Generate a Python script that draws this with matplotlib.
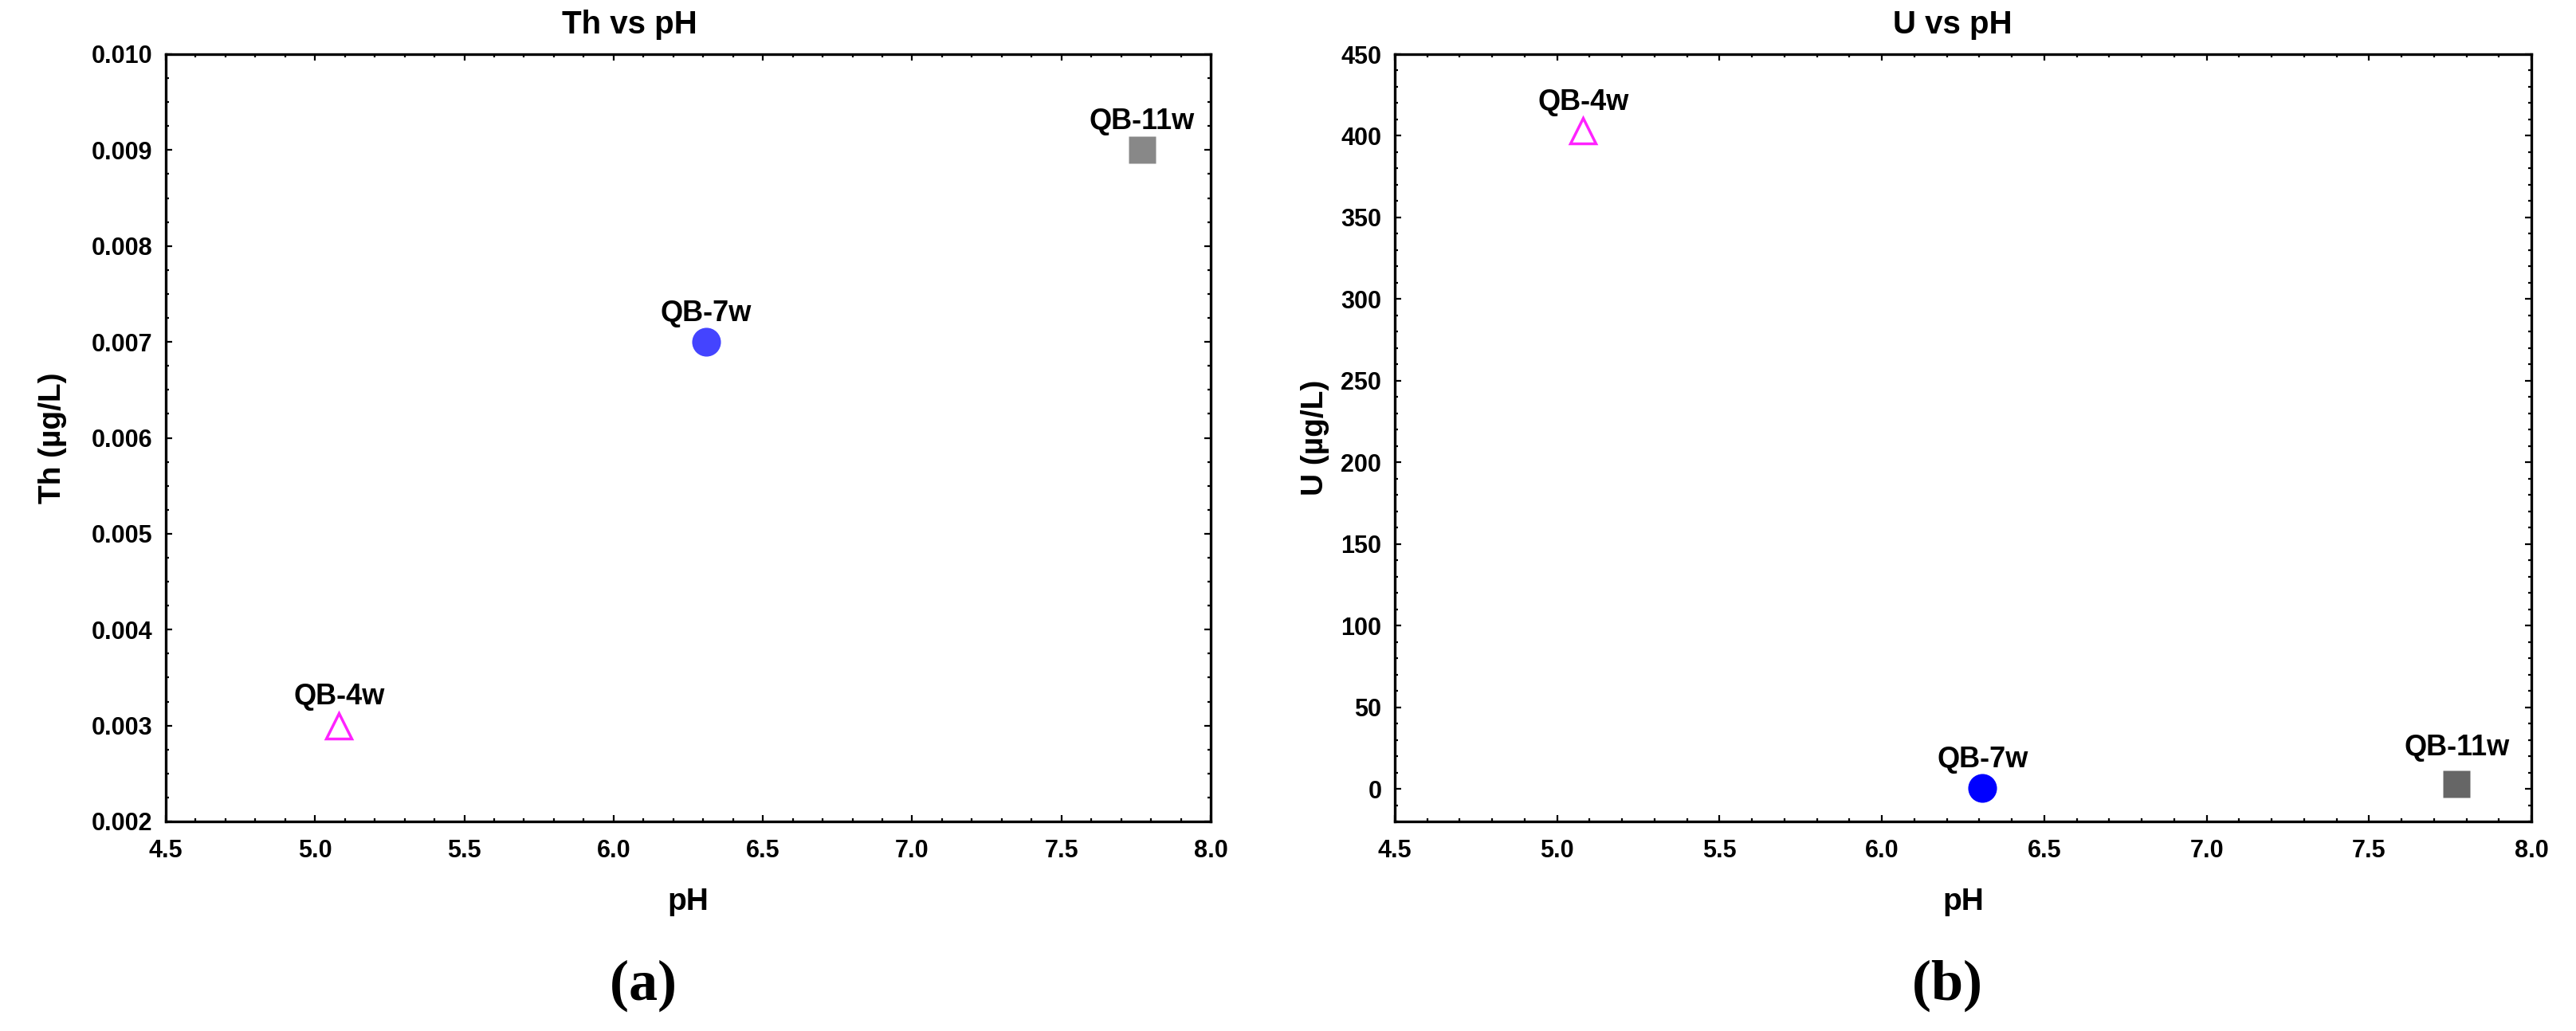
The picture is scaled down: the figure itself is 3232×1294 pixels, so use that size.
import matplotlib.pyplot as plt
from matplotlib.ticker import MultipleLocator, AutoMinorLocator

plt.rcParams['font.family'] = ['Liberation Sans', 'DejaVu Sans']
plt.rcParams['font.weight'] = 'bold'
plt.rcParams['mathtext.fontset'] = 'custom'
plt.rcParams['mathtext.rm'] = 'Liberation Serif'
plt.rcParams['mathtext.bf'] = 'Liberation Serif:bold'

# data
samples = ['QB-4w', 'QB-7w', 'QB-11w']
ph = [5.08, 6.31, 7.77]
th = [0.003, 0.007, 0.009]
u = [403, 0.5, 3]

# styles
markers = ['^', 'o', 's']
sizes = [23, 26, 24]
colors_a = ['#ff22ff', '#4444ff', '#888888']
colors_b = ['#ff22ff', '#0000ff', '#666666']
label_off_a = [19, 19, 19]
label_off_b = [19, 19, 26]

W, H = 3232, 1294
fig = plt.figure(figsize=(W / 100, H / 100), dpi=100)


def box(x0, x1, y0, y1):
    return [x0 / W, 1 - y1 / H, (x1 - x0) / W, (y1 - y0) / H]


ax1 = fig.add_axes(box(208, 1519, 68, 1031))
ax2 = fig.add_axes(box(1750, 3176, 68, 1031))


def style(ax, ymajor, yminor_n):
    ax.set_xlim(4.5, 8.0)
    ax.xaxis.set_major_locator(MultipleLocator(0.5))
    ax.xaxis.set_minor_locator(AutoMinorLocator(5))
    ax.yaxis.set_major_locator(MultipleLocator(ymajor))
    ax.yaxis.set_minor_locator(AutoMinorLocator(yminor_n))
    ax.tick_params(which='both', direction='in', top=True, right=True, width=1.6)
    ax.tick_params(which='major', length=6)
    ax.tick_params(which='minor', length=3)
    ax.tick_params(axis='x', which='major', labelsize=22, pad=16)
    ax.tick_params(axis='y', which='major', labelsize=22, pad=12)
    for s in ax.spines.values():
        s.set_linewidth(2.4)
    ax.set_xlabel('pH', fontsize=28, fontweight='bold', labelpad=22)


def draw(ax, yvals, colors, offs):
    for i, name in enumerate(samples):
        if markers[i] == '^':
            ax.plot(ph[i], yvals[i], marker='^', ms=sizes[i], mfc='white',
                    mec=colors[i], mew=2.5, ls='none')
        else:
            ax.plot(ph[i], yvals[i], marker=markers[i], ms=sizes[i],
                    color=colors[i], mec='none', ls='none')
        ax.annotate(name, (ph[i], yvals[i]), xytext=(0, offs[i]), textcoords='offset points',
                    ha='center', va='baseline', fontsize=26, fontweight='bold')


draw(ax1, th, colors_a, label_off_a)
style(ax1, 0.001, 4)
ax1.set_ylim(0.002, 0.010)
ax1.yaxis.set_major_formatter(plt.FormatStrFormatter('%.3f'))
ax1.set_ylabel('Th (µg/L)', fontsize=28, fontweight='bold', labelpad=22)

draw(ax2, u, colors_b, label_off_b)
style(ax2, 50, 5)
ax2.set_ylim(-20, 450)
ax2.set_ylabel('U (µg/L)', fontsize=28, fontweight='bold', labelpad=10)

# titles and panel captions
fig.text(790 / W, 1 - 42 / H, 'Th vs pH', ha='center', va='baseline',
         fontsize=29, fontweight='bold')
fig.text(2450 / W, 1 - 42 / H, 'U vs pH', ha='center', va='baseline',
         fontsize=29, fontweight='bold')
fig.text(806 / W, 1 - 1237 / H, r'$(\mathbf{a})$', ha='center', va='center', fontsize=52)
fig.text(2442 / W, 1 - 1237 / H, r'$(\mathbf{b})$', ha='center', va='center', fontsize=52)

fig.savefig('out.png', dpi=100, facecolor='white')
